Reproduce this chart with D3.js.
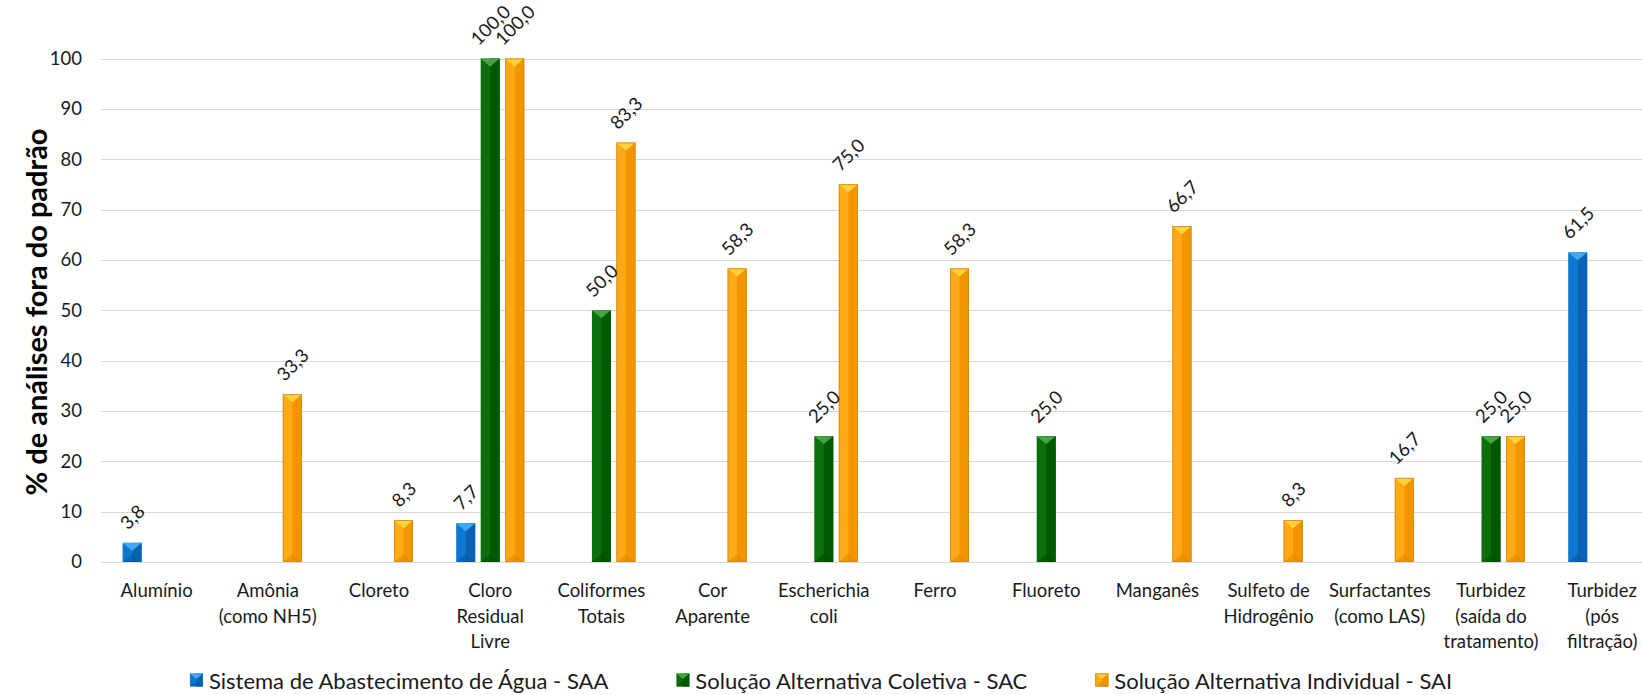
<!DOCTYPE html>
<html><head><meta charset="utf-8">
<script src="https://cdn.jsdelivr.net/npm/d3@7"></script>
<style>
html,body{margin:0;padding:0;background:#fff;overflow:hidden;}
svg{display:block;font-family:Lato,"Open Sans",sans-serif;}
</style></head>
<body>
<svg id="c" width="1642" height="695"></svg>
<script>
const categories = ["Alumínio","Amônia\n(como NH5)","Cloreto","Cloro\nResidual\nLivre","Coliformes\nTotais","Cor\nAparente","Escherichia\ncoli","Ferro","Fluoreto","Manganês","Sulfeto de\nHidrogênio","Surfactantes\n(como LAS)","Turbidez\n(saída do\ntratamento)","Turbidez\n(pós\nfiltração)"];
const seriesNames = ["Sistema de Abastecimento de Água - SAA","Solução Alternativa Coletiva - SAC","Solução Alternativa Individual - SAI"];
const saa = [3.8,null,null,7.7,null,null,null,null,null,null,null,null,null,61.5];
const sac = [null,null,null,100,50,null,25,null,25,null,null,null,25,null];
const sai = [null,33.3,8.3,100,83.3,58.3,75,58.3,null,66.7,8.3,16.7,25,null];
const yTicks = [0,10,20,30,40,50,60,70,80,90,100];
const yTitle = "% de análises fora do padrão";

const palettes = [
  {left:"#0E78D0", right:"#0A62B2", top:"#42A8F2", bottom:"#0A5A9E", stroke:"none"},
  {left:"#0B6F0B", right:"#005800", top:"#45A545", bottom:"#004D00", stroke:"none"},
  {left:"#FFA916", right:"#F29500", top:"#FFD23C", bottom:"#E08800", stroke:"#CC8A22"}
];

const svg = d3.select("#c");
const W = 1642, H = 695;
const x = d3.scaleBand().domain(d3.range(categories.length)).range([101, 101 + 111.2*categories.length]).padding(0);
const y = d3.scaleLinear().domain([0,100]).range([562, 58.5]);
const xs = d3.scaleBand().domain([0,1,2]).range([-36.75, 36.75]).paddingInner(0.224).paddingOuter(0.112);

// grid
svg.append("g").selectAll("line").data(yTicks).join("line")
  .attr("x1", 101).attr("x2", W)
  .attr("y1", d=>Math.round(y(d))+0.5).attr("y2", d=>Math.round(y(d))+0.5)
  .attr("stroke", "#D9D9D9").attr("stroke-width", 1.2);

// y axis labels
const yAxis = d3.axisLeft(y).tickValues(yTicks).tickSize(0).tickPadding(0);
const gy = svg.append("g").attr("transform","translate(82,0)").call(yAxis);
gy.select(".domain").remove();
gy.selectAll("text").attr("font-size",18.5).attr("fill","#1a1a1a").attr("font-family","Lato");

// y title
svg.append("text").attr("transform","translate(35,312) rotate(-90)")
  .attr("text-anchor","middle").attr("dominant-baseline","central")
  .attr("font-size",29).attr("font-weight","bold").attr("fill","#000")
  .text(yTitle);

// category labels
const gx = svg.append("g");
categories.forEach((c,i)=>{
  const t = gx.append("text").attr("text-anchor","middle").attr("font-size",18.5).attr("fill","#1a1a1a");
  c.split("\n").forEach((ln,j)=>{
    t.append("tspan").attr("x", x(i)+x.bandwidth()/2).attr("y", 590 + j*25.5).attr("dominant-baseline","central").text(ln);
  });
});

// bars
const series = [saa, sac, sai];
const fmt = v => d3.format(".1f")(v).replace(".", ",");
const gb = svg.append("g");
const gl = svg.append("g");
function drawBar(g, x0, x1, yT, yB, p){
  const cx = (x0+x1)/2, w = x1-x0;
  const th = Math.min(w*0.42, (yB-yT)/2);
  g.append("rect").attr("x",x0).attr("y",yT).attr("width",w).attr("height",yB-yT).attr("fill",p.left);
  g.append("rect").attr("x",cx).attr("y",yT).attr("width",x1-cx).attr("height",yB-yT).attr("fill",p.right);
  g.append("polygon").attr("points",`${x0},${yT} ${x1},${yT} ${cx},${yT+th}`).attr("fill",p.top);
  g.append("polygon").attr("points",`${x0},${yB} ${x1},${yB} ${cx},${yB-th}`).attr("fill",p.bottom).attr("opacity",0.55);
  if(p.stroke!=="none") g.append("rect").attr("x",x0+0.4).attr("y",yT+0.4).attr("width",w-0.8).attr("height",yB-yT-0.8).attr("fill","none").attr("stroke",p.stroke).attr("stroke-width",0.8);
}
series.forEach((vals,s)=>{
  vals.forEach((v,i)=>{
    if(v==null) return;
    const c = x(i)+x.bandwidth()/2;
    const x0 = c + xs(s), x1 = x0 + xs.bandwidth();
    drawBar(gb, x0, x1, y(v), y(0), palettes[s]);
    const t = gl.append("text").attr("font-size",18.5).attr("fill","#1a1a1a")
      .attr("text-anchor","middle").attr("dominant-baseline","central").text(fmt(v));
    const L = t.node().getComputedTextLength();
    const cy = y(v) - (17 + 0.707*L/2);
    t.attr("transform",`translate(${(x0+x1)/2},${cy}) rotate(-45)`);
  });
});

// legend
const lg = svg.append("g");
const items = [];
let total = 0;
seriesNames.forEach((n,s)=>{
  const g = lg.append("g");
  drawBar(g, 0, 13, -6.5, 6.5, palettes[s]);
  const t = g.append("text").attr("x",19).attr("y",0).attr("dominant-baseline","central")
    .attr("font-size",22).attr("fill","#1a1a1a").text(n);
  const w = 19 + t.node().getComputedTextLength();
  items.push({g,w}); total += w;
});
const gap = 68;
total += gap*(items.length-1);
let cx0 = W/2 - total/2;
items.forEach(it=>{ it.g.attr("transform",`translate(${cx0},680)`); cx0 += it.w + gap; });
</script>
</body></html>
